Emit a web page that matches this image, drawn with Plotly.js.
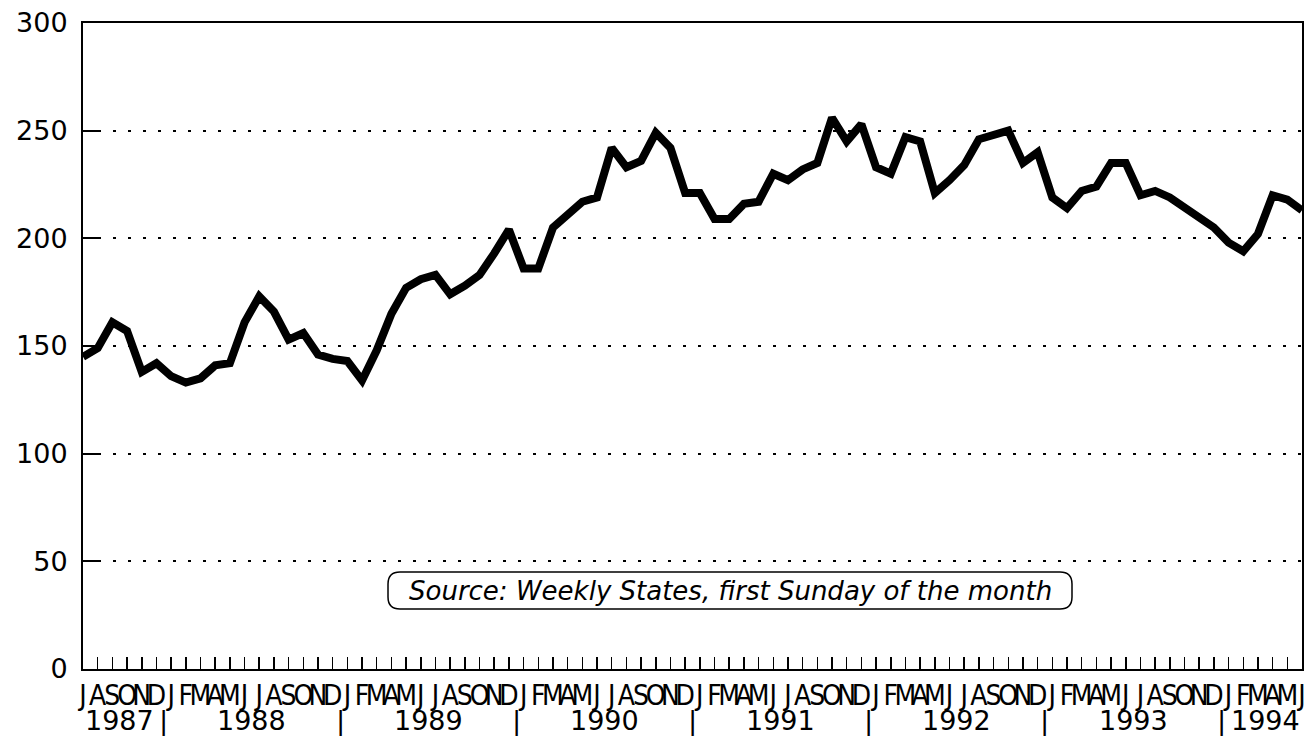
<!DOCTYPE html>
<html>
<head>
<meta charset="utf-8">
<script src="https://cdn.plot.ly/plotly-3.0.1.min.js"></script>
<style>
  html, body { margin: 0; padding: 0; background: #fff; }
  #chart { width: 1314px; height: 741px; }
</style>
</head>
<body>
<div id="chart"></div>
<script>
// Monthly series, July 1987 – June 1994
var monthLabels = [
  'J','A','S','O','N','D',
  'J','F','M','A','M','J','J','A','S','O','N','D',
  'J','F','M','A','M','J','J','A','S','O','N','D',
  'J','F','M','A','M','J','J','A','S','O','N','D',
  'J','F','M','A','M','J','J','A','S','O','N','D',
  'J','F','M','A','M','J','J','A','S','O','N','D',
  'J','F','M','A','M','J','J','A','S','O','N','D',
  'J','F','M','A','M','J'
];
var values1987 = [145, 149, 161, 157, 138, 142];
var values1988 = [136, 133, 135, 141, 142, 161, 173, 166, 153, 156, 146, 144];
var values1989 = [143, 134, 148, 165, 177, 181, 183, 174, 178, 183, 193, 204];
var values1990 = [186, 186, 205, 211, 217, 219, 242, 233, 236, 249, 242, 221];
var values1991 = [221, 209, 209, 216, 217, 230, 227, 232, 235, 256, 245, 253];
var values1992 = [233, 230, 247, 245, 221, 227, 234, 246, 248, 250, 235, 240];
var values1993 = [219, 214, 222, 224, 235, 235, 220, 222, 219, 214, 209, 205];
var values1994 = [198, 194, 202, 220, 218, 213];
var yearLabels = ['1987', '1988', '1989', '1990', '1991', '1992', '1993', '1994'];
var yTicks = [0, 50, 100, 150, 200, 250, 300];
var sourceNote = 'Source: Weekly States, first Sunday of the month';

var yearValues = [values1987, values1988, values1989, values1990, values1991, values1992, values1993, values1994];
var values = [].concat.apply([], yearValues);
var idx = values.map(function (v, i) { return i; });

var wideFont = 'DejaVu Sans, Liberation Sans, Arial, sans-serif';

// year spans derived from the per-year arrays
var annotations = [];
var start = 0;
yearValues.forEach(function (arr, k) {
  var s = start - 0.5, e = start + arr.length - 0.5;
  annotations.push({
    x: (s + e) / 2, xref: 'x', y: -0.079, yref: 'paper',
    text: yearLabels[k], showarrow: false,
    font: { family: wideFont, size: 27, color: '#000' },
    xanchor: 'center', yanchor: 'middle'
  });
  if (k > 0) {
    annotations.push({
      x: s, xref: 'x', y: -0.079, yref: 'paper',
      text: '|', showarrow: false,
      font: { family: 'Liberation Sans, Arial, sans-serif', size: 28, color: '#000' },
      xanchor: 'center', yanchor: 'middle'
    });
  }
  start += arr.length;
});

// plot area geometry (pixels) for the rounded note box
var L = 83, R = 12, T = 23, B = 72;
var PW = 1314 - L - R, PH = 741 - T - B;
function px(x) { return (x / PW).toFixed(5); }
function py(y) { return (1 - y / PH).toFixed(5); }
function roundRect(x0, y0, x1, y1, r) {
  return 'M' + px(x0 + r) + ',' + py(y0) +
    ' L' + px(x1 - r) + ',' + py(y0) +
    ' Q' + px(x1) + ',' + py(y0) + ' ' + px(x1) + ',' + py(y0 + r) +
    ' L' + px(x1) + ',' + py(y1 - r) +
    ' Q' + px(x1) + ',' + py(y1) + ' ' + px(x1 - r) + ',' + py(y1) +
    ' L' + px(x0 + r) + ',' + py(y1) +
    ' Q' + px(x0) + ',' + py(y1) + ' ' + px(x0) + ',' + py(y1 - r) +
    ' L' + px(x0) + ',' + py(y0 + r) +
    ' Q' + px(x0) + ',' + py(y0) + ' ' + px(x0 + r) + ',' + py(y0) + ' Z';
}
var boxX0 = 388 - L, boxX1 = 1072 - L, boxY0 = 572 - T, boxY1 = 609 - T;

annotations.push({
  x: ((boxX0 + boxX1) / 2) / PW, xref: 'paper',
  y: 1 - ((boxY0 + boxY1) / 2) / PH, yref: 'paper',
  text: '<i>' + sourceNote + '</i>', showarrow: false,
  font: { family: wideFont, size: 26, color: '#000' },
  xanchor: 'center', yanchor: 'middle'
});

var trace = {
  x: idx, y: values, type: 'scatter', mode: 'lines',
  line: { color: '#000', width: 8 },
  hoverinfo: 'skip'
};

var layout = {
  width: 1314, height: 741,
  margin: { l: L, r: R, t: T, b: B, pad: 0 },
  paper_bgcolor: '#fff', plot_bgcolor: '#fff',
  showlegend: false,
  xaxis: {
    range: [0, values.length - 1],
    tickmode: 'array', tickvals: idx, ticktext: monthLabels,
    ticks: 'inside', ticklen: 12, tickwidth: 1.5, tickcolor: '#000',
    showgrid: false, zeroline: false,
    showline: true, linecolor: '#000', linewidth: 2, mirror: true,
    tickangle: 0,
    tickfont: { family: 'Liberation Sans Narrow, Arial Narrow, DejaVu Sans Condensed, sans-serif', size: 28, color: '#000' },
    fixedrange: true
  },
  yaxis: {
    range: [0, 300],
    tickmode: 'array', tickvals: yTicks,
    ticks: 'inside', ticklen: 15, tickwidth: 2, tickcolor: '#000',
    showgrid: true, gridcolor: '#000', gridwidth: 2, griddash: '3px,12px',
    zeroline: false,
    showline: true, linecolor: '#000', linewidth: 2, mirror: true,
    tickfont: { family: wideFont, size: 27, color: '#000' },
    ticklabelstandoff: 8,
    fixedrange: true
  },
  shapes: [{
    type: 'path', xref: 'paper', yref: 'paper',
    path: roundRect(boxX0, boxY0, boxX1, boxY1, 12),
    line: { color: '#000', width: 1.5 }, fillcolor: '#fff', layer: 'above'
  }],
  annotations: annotations
};

Plotly.newPlot('chart', [trace], layout, { displayModeBar: false, staticPlot: true });
</script>
</body>
</html>
